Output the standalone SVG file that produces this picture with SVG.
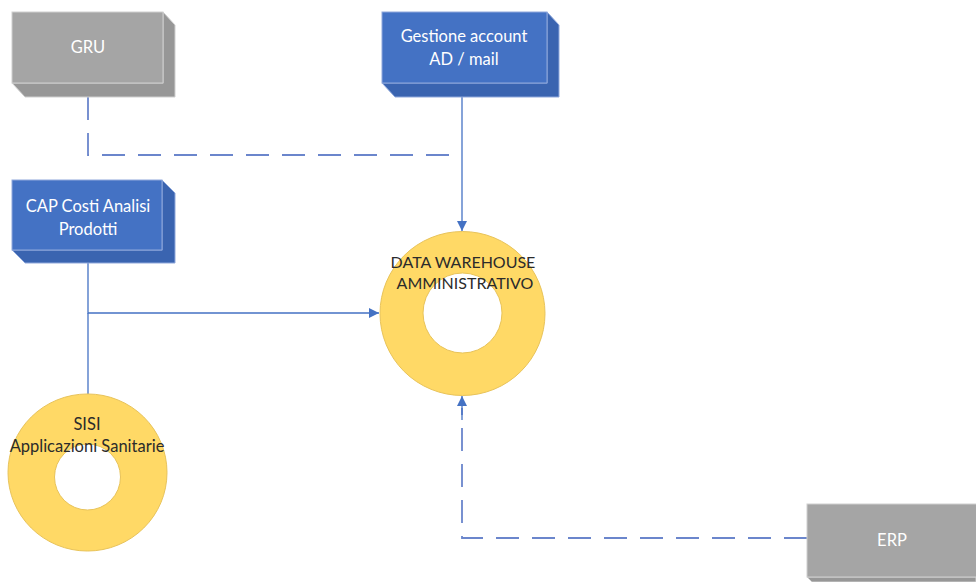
<svg xmlns="http://www.w3.org/2000/svg" width="976" height="582" viewBox="0 0 976 582">
<defs>
<style>
.t{font-family:Lato,"Liberation Sans",sans-serif;font-size:16.5px;text-anchor:middle}
.w{fill:#ffffff}
.d{fill:#2b2b2b}
.gf{fill:#a5a5a5;stroke:#cfcfcf;stroke-width:1}
.gs{fill:#979797;stroke:#cfcfcf;stroke-width:1}
.bf{fill:#4472c4;stroke:#8fa8dc;stroke-width:1}
.bs{fill:#3a64b0;stroke:#8fa8dc;stroke-width:1}
.donut{fill:#ffd966;fill-rule:evenodd;stroke:#e8c35a;stroke-width:1}
.c{fill:none;stroke:#4472c4;stroke-width:1.3}
.dash{fill:none;stroke:#6b86cc;stroke-width:1.8;stroke-dasharray:23 13}
</style>
<marker id="ah" viewBox="0 0 10 10" refX="10" refY="5" markerWidth="10" markerHeight="10" markerUnits="userSpaceOnUse" orient="auto">
<path d="M0,0 L10,5 L0,10 Z" fill="#4472c4"/>
</marker>
</defs>
<rect width="976" height="582" fill="#ffffff"/>
<g id="connectors">
<path class="dash" d="M88,97 V155 H462"/>
<path class="c" d="M462,97 V231" marker-end="url(#ah)"/>
<path class="c" d="M88,263 V313 H379" marker-end="url(#ah)"/>
<path class="c" d="M88,313 V394"/>
<path class="dash" d="M807,538 H462 V408"/>
<path class="c" d="M462,420 V396" marker-end="url(#ah)"/>
</g>
<g id="gru">
<path class="gs" d="M163,12 L175,25 L175,97 L25,97 L12,83 L163,83 Z"/>
<rect class="gf" x="12" y="12" width="151" height="71"/>
<text class="t w" x="88" y="53">GRU</text>
</g>
<g id="gestione">
<path class="bs" d="M547,12 L559,25 L559,97 L395,97 L382,83 L547,83 Z"/>
<rect class="bf" x="382" y="12" width="165" height="71"/>
<text class="t w" x="464" y="42">Gestione account</text>
<text class="t w" x="464" y="65">AD / mail</text>
</g>
<g id="cap">
<path class="bs" d="M162,180 L175,193 L175,263 L25,263 L12,250 L162,250 Z"/>
<rect class="bf" x="12" y="180" width="150" height="70"/>
<text class="t w" x="88" y="212">CAP Costi Analisi</text>
<text class="t w" x="88" y="235">Prodotti</text>
</g>
<g id="dw">
<path class="donut" d="M380,313.5 A82.5,82 0 1 0 545,313.5 A82.5,82 0 1 0 380,313.5 Z M423,313 A39.5,40 0 1 1 502,313 A39.5,40 0 1 1 423,313 Z"/>
<text class="t d" x="463" y="268" style="font-size:16px">DATA WAREHOUSE</text>
<text class="t d" x="465" y="289" style="font-size:16px">AMMINISTRATIVO</text>
</g>
<g id="sisi">
<path class="donut" d="M8,472.5 A79.5,78.5 0 1 0 167,472.5 A79.5,78.5 0 1 0 8,472.5 Z M54.5,477 A33,33 0 1 1 120.5,477 A33,33 0 1 1 54.5,477 Z"/>
<text class="t d" x="87" y="430">SISI</text>
<text class="t d" x="87" y="452">Applicazioni Sanitarie</text>
</g>
<g id="erp">
<path class="gs" d="M807,577 L812,582 L976,582 L976,577 Z"/>
<rect class="gf" x="807" y="504" width="175" height="73"/>
<text class="t w" x="892" y="546">ERP</text>
</g>
</svg>
